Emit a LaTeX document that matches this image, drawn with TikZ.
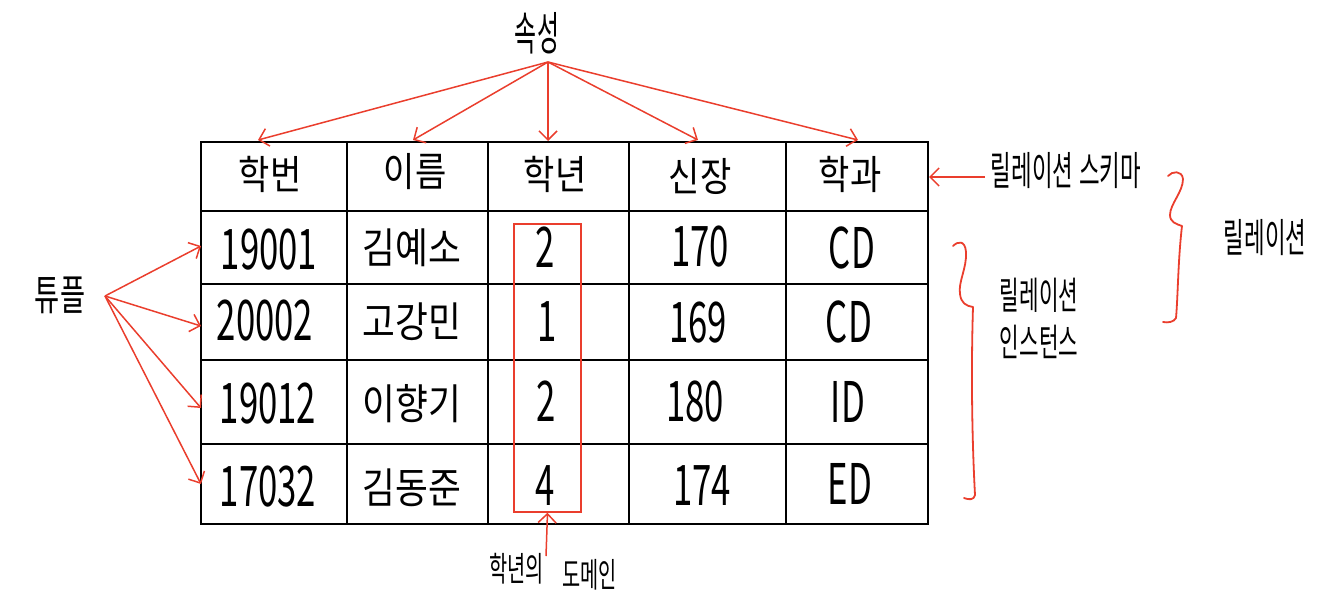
\documentclass[tikz,border=0pt]{standalone}
\usepackage{fontspec}
\setmainfont{Noto Sans CJK KR}
\usetikzlibrary{arrows.meta}
\definecolor{hwred}{RGB}{234,62,45}
\newcommand{\hwH}[1]{\scalebox{0.85}[1]{#1}}
\newcommand{\hwN}[1]{\scalebox{0.62}[1]{#1}}
\newcommand{\hwK}[1]{\scalebox{0.85}[1]{#1}}
\newcommand{\hwL}[1]{\scalebox{0.56}[1]{#1}}
\begin{document}
\begin{tikzpicture}[x=1pt,y=-1pt,
  tbl/.style={line width=2.2pt, black},
  hdr/.style={font=\fontsize{40}{44}\selectfont, inner sep=0pt},
  num/.style={font=\fontsize{56}{60}\selectfont, inner sep=0pt},
  kor/.style={font=\fontsize{42}{46}\selectfont, inner sep=0pt},
  lbl/.style={font=\fontsize{40}{48}\selectfont, inner sep=0pt, align=center},
  redarr/.style={hwred, line width=1.5pt, -{Straight Barb[length=9pt,width=18pt,line width=1.5pt]}},
  redline/.style={hwred, line width=1.8pt, line cap=round, line join=round}
]
\useasboundingbox (0,0) rectangle (1328,606);

% table grid
\draw[tbl] (201,142) rectangle (928,524);
\foreach \x in {347,488,629,786} \draw[tbl] (\x,142) -- (\x,524);
\foreach \y in {211,284,360,444} \draw[tbl] (201,\y) -- (928,\y);

% header
\node[hdr] (h1) at (270,174) {\hwH{학번}};
\node[hdr] (h2) at (415,172) {\hwH{이름}};
\node[hdr] (h3) at (555,174) {\hwH{학년}};
\node[hdr] (h4) at (700,176) {\hwH{신장}};
\node[hdr] (h5) at (850,174) {\hwH{학과}};

% rows
\node[num] (r1a) at (269,250) {\hwN{19001}};
\node[kor] (r1b) at (412,248) {\hwK{김예소}};
\node[num] (r1c) at (545,247) {\hwN{2}};
\node[num] (r1d) at (700,247) {\hwN{170}};
\node[num] (r1e) at (852,248) {\hwN{CD}};

\node[num] (r2a) at (265,321) {\hwN{20002}};
\node[kor] (r2b) at (412,322) {\hwK{고강민}};
\node[num] (r2c) at (547,322) {\hwN{1}};
\node[num] (r2d) at (698,323) {\hwN{169}};
\node[num] (r2e) at (849,322) {\hwN{CD}};

\node[num] (r3a) at (268,404) {\hwN{19012}};
\node[kor] (r3b) at (412,404) {\hwK{이향기}};
\node[num] (r3c) at (546,401) {\hwN{2}};
\node[num] (r3d) at (695,402) {\hwN{180}};
\node[num] (r3e) at (848,402) {\hwN{ID}};

\node[num] (r4a) at (268,487) {\hwN{17032}};
\node[kor] (r4b) at (412,488) {\hwK{김동준}};
\node[num] (r4c) at (545,486) {\hwN{4}};
\node[num] (r4d) at (702,486) {\hwN{174}};
\node[num] (r4e) at (850,484) {\hwN{ED}};

% domain box
\node[draw=hwred, line width=1.5pt, minimum width=67pt, minimum height=288pt, inner sep=0pt] (gbox) at (547.5,368) {};

% labels
\node[lbl, font=\fontsize{46}{50}\selectfont] (attr) at (537,33) {\scalebox{0.52}[1]{속성}};
\node[lbl, font=\fontsize{42}{46}\selectfont] (tuple) at (60,295) {\scalebox{0.65}[1]{튜플}};
\node[lbl] (schema) at (1066,171) {\hwL{릴레이션}\hspace{6pt}\hwL{스키마}};
\node[lbl] (rel) at (1265,238) {\hwL{릴레이션}};
\node[lbl, font=\fontsize{38}{47}\selectfont] (inst) at (1039,318) {\hwL{릴레이션}\\\hwL{인스턴스}};
\node[lbl, font=\fontsize{34}{38}\selectfont] (dom) at (553,572) {\scalebox{0.58}[1]{학년의}\hspace{18pt}\raisebox{-6pt}{\scalebox{0.58}[1]{도메인}}};

% attribute arrows
\coordinate (a0) at (548,62);
\coordinate (ta1) at (258,140);
\coordinate (ta2) at (413,140);
\coordinate (ta3) at (548,141);
\coordinate (ta4) at (698,140);
\coordinate (ta5) at (858,140);
\foreach \t in {ta1,ta2,ta3,ta4,ta5} \draw[redarr] (a0) -- (\t);

% tuple arrows
\coordinate (t0) at (105,296);
\coordinate (tt1) at (201,246);
\coordinate (tt2) at (201,326);
\coordinate (tt3) at (201,408);
\coordinate (tt4) at (201,484);
\foreach \t in {tt1,tt2,tt3,tt4} \draw[redarr] (t0) -- (\t);

% schema arrow
\coordinate (s0) at (985,177);
\coordinate (s1) at (929,177);
\draw[redarr] (s0) -- (s1);

% domain arrow
\coordinate (d0) at (546,556);
\draw[redarr] (d0) -- (gbox.south);

% braces
\draw[redline] (953,246) .. controls (958,241) and (965,240) .. (966,252)
  .. controls (967,268) and (958,282) .. (960,294)
  .. controls (961,303) and (966,306) .. (973,307)
  .. controls (971,370) and (972,440) .. (975,495)
  .. controls (974,500) and (969,500) .. (964,498);
\draw[redline] (1168,176) .. controls (1172,171) and (1182,170) .. (1183,179)
  .. controls (1183,192) and (1170,204) .. (1170,215)
  .. controls (1170,222) and (1176,224) .. (1182,226)
  .. controls (1178,260) and (1178,295) .. (1176,318)
  .. controls (1174,322) and (1168,323) .. (1163,322);
\end{tikzpicture}
\end{document}
